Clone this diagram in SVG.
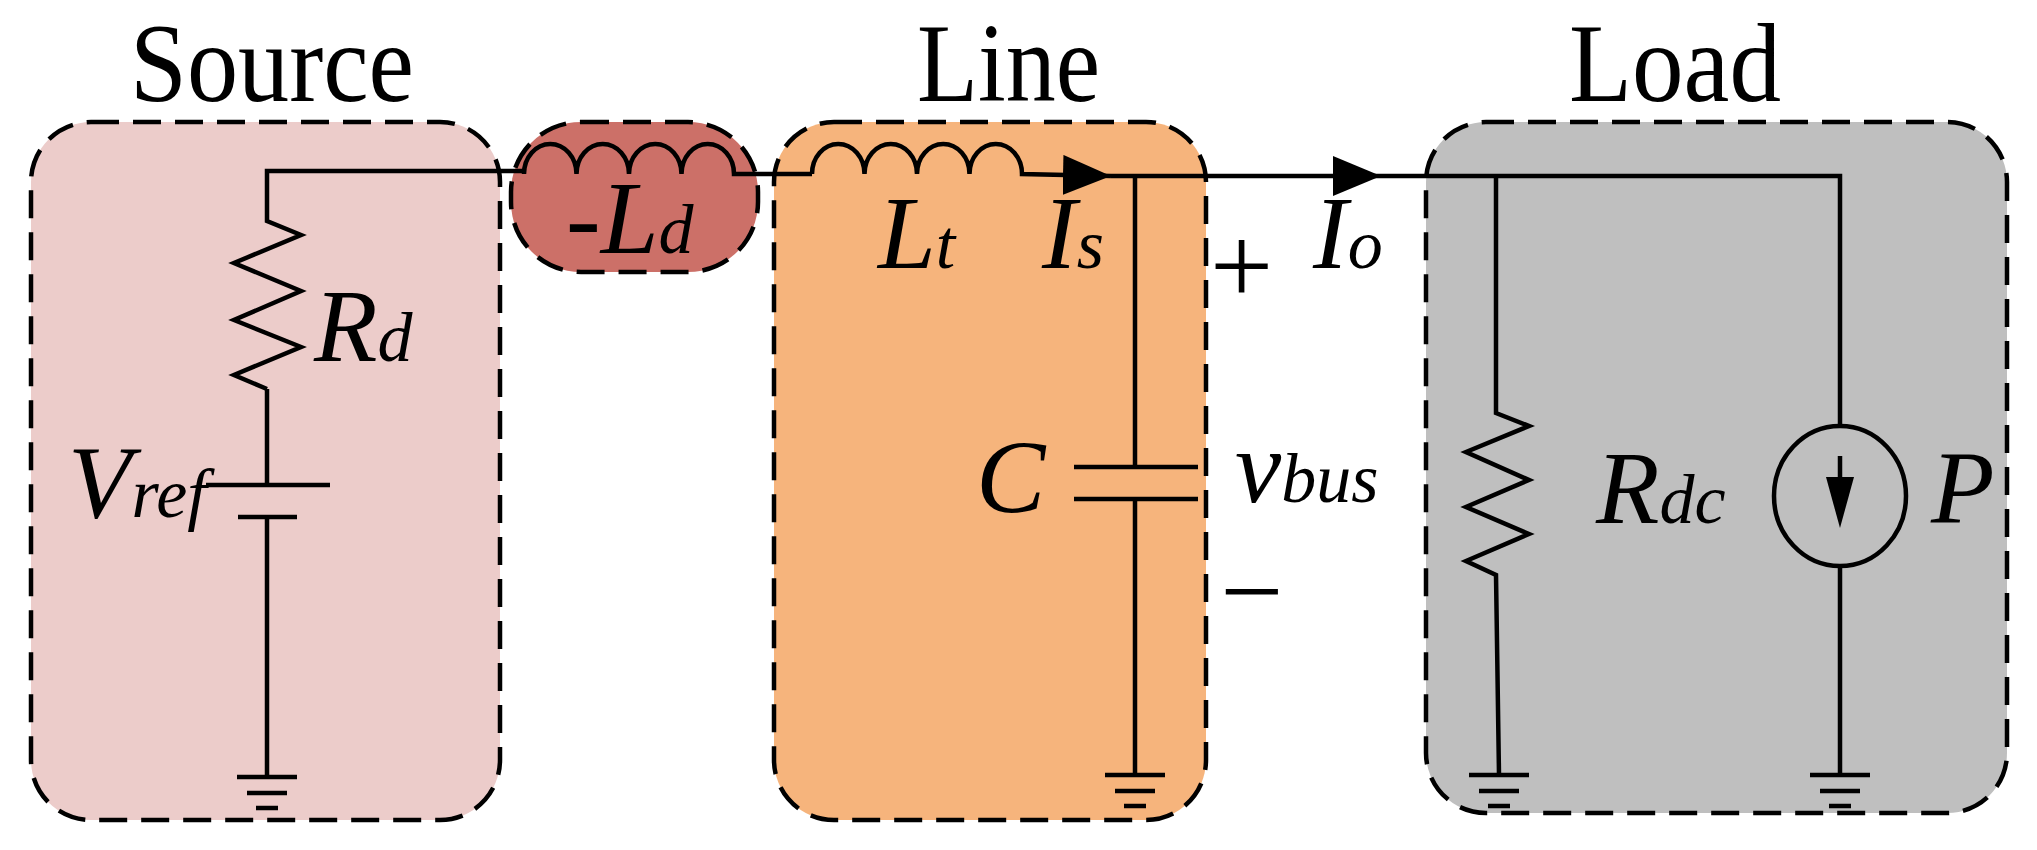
<svg xmlns="http://www.w3.org/2000/svg" width="2037" height="850" viewBox="0 0 2037 850">
<style>
.box{stroke:#000;stroke-width:4.5;stroke-dasharray:28 14}
.w{fill:none;stroke:#000;stroke-width:4.5}
.t{font-family:"Liberation Serif",serif;font-size:112px}
.i{font-family:"Liberation Serif",serif;font-style:italic;font-size:104px}
.s{font-family:"Liberation Serif",serif;font-style:italic;font-size:70px}
</style>
<defs>
<marker id="arr" viewBox="0 0 10 10" refX="10" refY="5" markerWidth="48" markerHeight="40" markerUnits="userSpaceOnUse" orient="auto" preserveAspectRatio="none"><path d="M0,0 L10,5 L0,10 Z"/></marker>
<g id="gnd"><path class="w" d="M-30,0 H30 M-20,16 H20 M-11,31 H11"/></g>
</defs>
<g id="source">
<rect class="box" x="31" y="122" width="469" height="698" rx="60" fill="#ecccca"/>
<text class="t" x="130" y="101" textLength="284" lengthAdjust="spacingAndGlyphs">Source</text>
</g>
<g id="ld">
<rect class="box" x="511" y="122" width="247" height="150" rx="70" fill="#cc7068"/>
</g>
<g id="line">
<rect class="box" x="774" y="122" width="432" height="698" rx="60" fill="#f6b47c"/>
<text class="t" x="917" y="101" textLength="183" lengthAdjust="spacingAndGlyphs">Line</text>
</g>
<g id="load">
<rect class="box" x="1426" y="122" width="581" height="691" rx="60" fill="#bfbfbf"/>
<text class="t" x="1569" y="101" textLength="212" lengthAdjust="spacingAndGlyphs">Load</text>
</g>
<g id="connectors">
<path class="w" d="M267,389 L234,375 L301,347 L234,320 L301,291 L234,263 L301,235 L267,221 V171 H524"/>
<path class="w" d="M524,174 a26.25,30 0 0 1 52.5,0 a26.25,30 0 0 1 52.5,0 a26.25,30 0 0 1 52.5,0 a26.25,30 0 0 1 52.5,0 H812"/>
<path class="w" d="M812,174 a26.25,30 0 0 1 52.5,0 a26.25,30 0 0 1 52.5,0 a26.25,30 0 0 1 52.5,0 a26.25,30 0 0 1 52.5,0 H1022 L1111,176" marker-end="url(#arr)"/>
<path class="w" d="M1111,176 H1381" marker-end="url(#arr)"/>
<path class="w" d="M1381,176 H1840 V428"/>
<path class="w" d="M267,389 V485 M206,485 H330 M238,517 H297 M267,517 V777"/>
<use href="#gnd" x="267" y="777"/>
<path class="w" d="M1135,176 V467 M1074,467 H1198 M1074,499 H1198 M1135,499 V775"/>
<use href="#gnd" x="1135" y="775"/>
<path class="w" d="M1496,176 V413 L1529,426 L1466,452 L1529,480 L1466,507 L1529,534 L1466,561 L1496,575 L1499,775"/>
<use href="#gnd" x="1499" y="775"/>
<ellipse class="w" cx="1840" cy="496" rx="66" ry="70"/>
<path class="w" d="M1840,456 V490"/>
<path d="M1826,477 L1854,477 L1840,528 Z"/>
<path class="w" d="M1840,566 V775"/>
<use href="#gnd" x="1840" y="775"/>
</g>
<g id="labels">
<text class="i" x="314" y="361">R<tspan class="s">d</tspan></text>
<text class="i" x="68" y="517">V<tspan class="s">ref</tspan></text>
<text class="i" x="566" y="253">-L<tspan class="s">d</tspan></text>
<text class="i" x="878" y="268">L<tspan class="s">t</tspan></text>
<text class="i" x="1042" y="268">I<tspan class="s">s</tspan></text>
<text class="i" x="976" y="512">C</text>
<text class="t" x="1210" y="304" font-size="90">+</text>
<text class="t" x="1220" y="629" font-size="90">−</text>
<text class="i" x="1313" y="268">I<tspan class="s">o</tspan></text>
<text class="i" x="1235" y="502" font-size="90">v<tspan class="s">bus</tspan></text>
<text class="i" x="1596" y="523">R<tspan class="s">dc</tspan></text>
<text class="i" x="1931" y="523">P</text>
</g>
</svg>
